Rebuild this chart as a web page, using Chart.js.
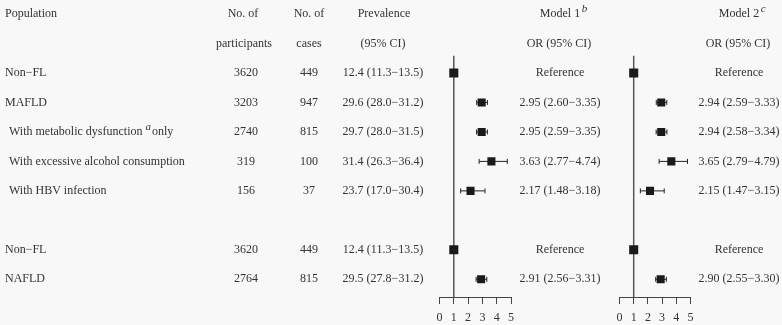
<!DOCTYPE html>
<html>
<head>
<meta charset="utf-8">
<script src="https://cdn.jsdelivr.net/npm/chart.js@4/dist/chart.umd.min.js"></script>
<style>
  html, body { margin: 0; padding: 0; background: #f8f8f8; }
  #wrap { position: relative; width: 782px; height: 325px; }
  #wrap canvas { position: absolute; left: 0; top: 0; }
</style>
</head>
<body>
<div id="wrap">
  <canvas id="model1" width="782" height="325"></canvas>
  <canvas id="model2" width="782" height="325"></canvas>
</div>
<script>
// table rows
var populations = ['Non\u2212FL', 'MAFLD', 'With metabolic dysfunction', 'With excessive alcohol consumption', 'With HBV infection', 'Non\u2212FL', 'NAFLD'];
var rowPos = [2, 3, 4, 5, 6, 8, 9];
var participants = [3620, 3203, 2740, 319, 156, 3620, 2764];
var cases = [449, 947, 815, 100, 37, 449, 815];
var prevalence = [12.4, 29.6, 29.7, 31.4, 23.7, 12.4, 29.5];
var prevLow = [11.3, 28.0, 28.0, 26.3, 17.0, 11.3, 27.8];
var prevHigh = [13.5, 31.2, 31.5, 36.4, 30.4, 13.5, 31.2];

// odds ratios, null = reference group
var m1Or = [1, 2.95, 2.95, 3.63, 2.17, 1, 2.91];
var m1Low = [null, 2.60, 2.59, 2.77, 1.48, null, 2.56];
var m1High = [null, 3.35, 3.35, 4.74, 3.18, null, 3.31];
var m2Or = [1, 2.94, 2.94, 3.65, 2.15, 1, 2.90];
var m2Low = [null, 2.59, 2.58, 2.79, 1.47, null, 2.55];
var m2High = [null, 3.33, 3.34, 4.79, 3.15, null, 3.30];

var xTicks = [0, 1, 2, 3, 4, 5];
var refLineRows = [1.42, 9.6];

var FONT = '"Liberation Serif", "DejaVu Serif", serif';
var TEXT = '#333333';
var MINUS = '\u2212';

function ciText(o, lo, hi)
{
    if (lo === null) return 'Reference';
    return o.toFixed(2) + ' (' + lo.toFixed(2) + MINUS + hi.toFixed(2) + ')';
}

function buildDatasets(ors, lows, highs)
{
    var sets = [];
    sets.push({
        type: 'line', order: 2,
        data: refLineRows.map(function(r){ return {x: 1, y: r}; }),
        borderColor: '#555555', borderWidth: 1.5, pointRadius: 0, showLine: true
    });
    ors.forEach(function(o, i){
        if (lows[i] === null) return;
        sets.push({
            type: 'line', order: 1,
            data: [{x: lows[i], y: rowPos[i]}, {x: highs[i], y: rowPos[i]}],
            borderColor: '#222222', borderWidth: 1, showLine: true,
            pointStyle: 'line', rotation: 90, pointRadius: 2.5,
            pointBorderColor: '#222222', pointBorderWidth: 1
        });
    });
    sets.push({
        type: 'scatter', order: 0,
        data: ors.map(function(o, i){ return {x: o, y: rowPos[i]}; }),
        pointStyle: 'rect',
        pointRadius: ors.map(function(o, i){ return lows[i] === null ? 6.4 : 5.7; }),
        backgroundColor: '#1a1a1a', borderColor: '#1a1a1a', borderWidth: 0
    });
    return sets;
}

function drawSup(ctx, text, x, y, sup)
{
    ctx.font = '12px ' + FONT;
    ctx.textAlign = 'center';
    ctx.fillText(text, x, y);
    var w = ctx.measureText(text).width;
    ctx.font = 'italic 11px ' + FONT;
    ctx.textAlign = 'left';
    ctx.fillText(sup, x + w / 2 + 1.5, y - 5);
}

var tablePlugin = {
    id: 'tableText',
    afterDraw: function(chart)
    {
        var ctx = chart.ctx;
        var ys = chart.scales.y;
        ctx.save();
        ctx.fillStyle = TEXT;
        ctx.textBaseline = 'middle';
        ctx.font = '12px ' + FONT;

        var h0 = ys.getPixelForValue(0), h1 = ys.getPixelForValue(1);
        ctx.textAlign = 'left';
        ctx.fillText('Population', 5, h0);
        ctx.textAlign = 'center';
        ctx.fillText('No. of', 243, h0);
        ctx.fillText('participants', 244, h1);
        ctx.fillText('No. of', 309, h0);
        ctx.fillText('cases', 309, h1);
        ctx.fillText('Prevalence', 384, h0);
        ctx.fillText('(95% CI)', 383, h1);
        ctx.fillText('OR (95% CI)', 559, h1);
        ctx.fillText('OR (95% CI)', 738, h1);
        drawSup(ctx, 'Model 1', 560, h0, 'b');
        drawSup(ctx, 'Model 2', 739, h0, 'c');

        populations.forEach(function(p, i){
            var y = ys.getPixelForValue(rowPos[i]);
            var x0 = (i === 0 || i === 1 || i === 5 || i === 6) ? 5 : 9;
            ctx.font = '12px ' + FONT;
            ctx.textAlign = 'left';
            ctx.fillText(p, x0, y);
            if (i === 2) {
                var w = ctx.measureText(p + ' ').width;
                ctx.font = 'italic 11px ' + FONT;
                ctx.fillText('a', x0 + w, y - 5);
                var wa = ctx.measureText('a').width;
                ctx.font = '12px ' + FONT;
                ctx.fillText('only', x0 + w + wa + 1, y);
            }
            ctx.textAlign = 'center';
            ctx.fillText(String(participants[i]), 246, y);
            ctx.fillText(String(cases[i]), 309, y);
            ctx.fillText(prevalence[i].toFixed(1) + ' (' + prevLow[i].toFixed(1) + MINUS + prevHigh[i].toFixed(1) + ')', 383, y);
            ctx.fillText(ciText(m1Or[i], m1Low[i], m1High[i]), 560, y);
            ctx.fillText(ciText(m2Or[i], m2Low[i], m2High[i]), 739, y);
        });
        ctx.restore();
    }
};

function makeChart(id, datasets, padLeft, padRight, plugins)
{
    return new Chart(document.getElementById(id), {
        type: 'scatter',
        data: { datasets: datasets },
        plugins: plugins,
        options: {
            responsive: false,
            animation: false,
            layout: { padding: { left: padLeft, right: padRight, top: 14, bottom: 0 } },
            plugins: { legend: { display: false }, tooltip: { enabled: false } },
            scales: {
                x: {
                    type: 'linear', min: xTicks[0], max: xTicks[xTicks.length - 1],
                    afterBuildTicks: function(s){ s.ticks = xTicks.map(function(v){ return {value: v}; }); },
                    afterFit: function(s){ s.height = 28; },
                    grid: { drawOnChartArea: false, drawTicks: true, tickLength: 7, color: '#444444', lineWidth: 1 },
                    border: { display: true, color: '#444444', width: 1 },
                    ticks: { color: TEXT, padding: 7, font: { family: FONT, size: 12 } }
                },
                y: { type: 'linear', reverse: true, min: 0, max: 9.6, display: false }
            }
        }
    });
}

makeChart('model1', buildDatasets(m1Or, m1Low, m1High), 439.5, 271, [tablePlugin]);
makeChart('model2', buildDatasets(m2Or, m2Low, m2High), 619.5, 91.5, []);
</script>
</body>
</html>
